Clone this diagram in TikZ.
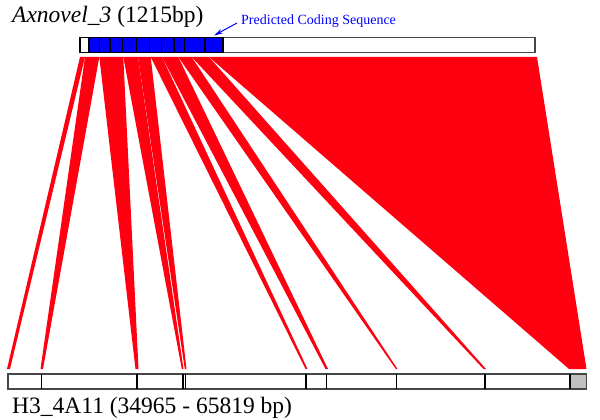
\documentclass[tikz,border=0pt]{standalone}
\usepackage{fontspec}
\setmainfont{Liberation Serif}
\usetikzlibrary{arrows.meta}
\definecolor{wred}{RGB}{255,0,16}
\definecolor{cdsblue}{RGB}{0,0,255}
\definecolor{bargray}{RGB}{70,70,70}
\definecolor{utrgray}{RGB}{192,192,192}
\tikzset{
  wedge/.style={fill=wred,draw=none},
  barframe/.style={draw=bargray,line width=1.5pt},
  divider/.style={draw=black,line width=1.4pt},
  bigtext/.style={font=\fontsize{23.5}{26}\selectfont,inner sep=0pt,anchor=base west},
  smalltext/.style={font=\fontsize{14}{16}\selectfont,text=cdsblue,inner sep=0pt,anchor=base west}
}
\begin{document}
\begin{tikzpicture}[x=1pt,y=-1pt]
\useasboundingbox (0,0) rectangle (600,420);
% titles
\node[bigtext] (qname) at (12,23) {\textit{Axnovel\_3} (1215bp)};
\node[smalltext] (cdslbl) at (241,24.5) {Predicted Coding Sequence};
\node[bigtext] (tname) at (12,413) {H3\_4A11 (34965 - 65819 bp)};
% arrow to CDS
\coordinate (cdsend) at (214,35.5);
\coordinate (cdsstart) at (237,23);
\draw[cdsblue,line width=1pt,-{Stealth[length=9pt,width=4.5pt]}] (cdsstart) -- (cdsend);
% wedges
\fill[wedge] (80,57) -- (85,57) -- (10,369) -- (7,369) -- cycle;
\fill[wedge] (85,57) -- (99.3,57) -- (43,369) -- (40.5,369) -- cycle;
\fill[wedge] (99.3,57) -- (123.3,57) -- (138.5,369) -- (135.5,369) -- cycle;
\fill[wedge] (123.3,57) -- (138,57) -- (183.5,369) -- (181.8,369) -- cycle;
\fill[wedge] (138,57) -- (150.7,57) -- (186.5,369) -- (184.8,369) -- cycle;
\fill[wedge] (150.7,57) -- (162,57) -- (307.5,369) -- (305.5,369) -- cycle;
\fill[wedge] (162,57) -- (178.3,57) -- (328,369) -- (325.5,369) -- cycle;
\fill[wedge] (178.3,57) -- (191.7,57) -- (397.5,369) -- (395.8,369) -- cycle;
\fill[wedge] (191.7,57) -- (209,57) -- (486,369) -- (483.5,369) -- cycle;
\fill[wedge] (209,57) -- (537,57) -- (586.5,369) -- (569,369) -- cycle;
% top bar
\node[draw=none,fill=white,inner sep=0pt,minimum width=455pt,minimum height=15pt] (qbar) at (307.5,45) {};
\fill[cdsblue] (89,37.5) rectangle (223,52.5);
\draw[barframe] (80,37.5) rectangle (535,52.5);
\draw[divider] (80,37.5) rectangle (89,52.5);
\draw[divider] (89,37.5) rectangle (223,52.5);
\foreach \x in {99.3,110,122.7,136.7,149.3,161.7,174,184.3,205}
  \draw[divider] (\x,37.5) -- (\x,52.5);
% bottom bar
\node[draw=none,inner sep=0pt,minimum width=578.5pt,minimum height=15pt] (tbar) at (297.25,381.5) {};
\fill[utrgray] (570,374) rectangle (586.5,389);
\draw[barframe] (8,374) rectangle (586.5,389);
\foreach \x in {41.3,137,183,185.5,306,326.7,396.7,485,570}
  \draw[divider] (\x,374) -- (\x,389);
\end{tikzpicture}
\end{document}
